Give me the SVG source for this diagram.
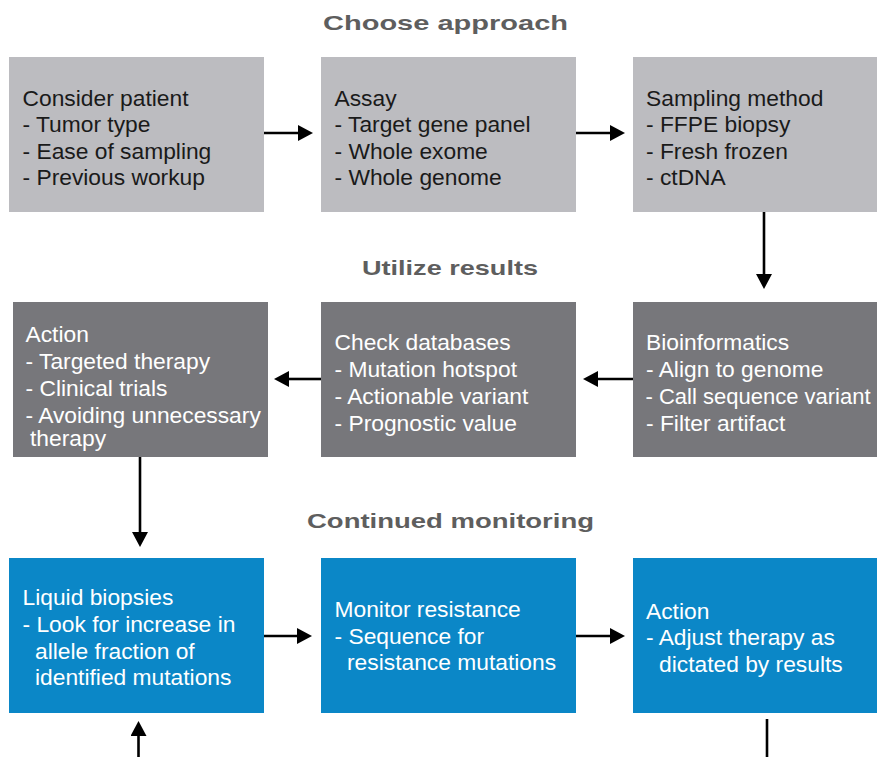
<svg xmlns="http://www.w3.org/2000/svg" width="877" height="757" viewBox="0 0 877 757">
<defs>
<style>
.t{font-family:"Liberation Sans",Arial,Helvetica,sans-serif;font-size:22.8px}
.dk{fill:#1a1a1a}
.wh{fill:#ffffff}
.hd{font-family:"Liberation Sans",Arial,Helvetica,sans-serif;font-size:21px;font-weight:bold;fill:#5e5e5e}
.lg{fill:#bcbcc0}
.dg{fill:#77777b}
.bl{fill:#0b87c7}
.c{fill:none;stroke:#000;stroke-width:2.6}
</style>
<marker id="ah" markerUnits="userSpaceOnUse" markerWidth="15" markerHeight="16" refX="0" refY="8" orient="auto" viewBox="0 0 15 16">
<path d="M0,0 L15,8 L0,16 Z" fill="#000"/>
</marker>
</defs>
<rect width="877" height="757" fill="#ffffff"/>

<g id="headings">
<text class="hd" x="323" y="30" textLength="245" lengthAdjust="spacingAndGlyphs">Choose approach</text>
<text class="hd" x="362" y="275" textLength="176" lengthAdjust="spacingAndGlyphs">Utilize results</text>
<text class="hd" x="307" y="527.5" textLength="287" lengthAdjust="spacingAndGlyphs">Continued monitoring</text>
</g>

<g id="consider-patient">
<rect class="lg" x="9" y="57" width="255" height="155"/>
<text class="t dk" x="22.5" y="105.5">Consider patient</text>
<text class="t dk" x="22.5" y="132">- Tumor type</text>
<text class="t dk" x="22.5" y="158.5">- Ease of sampling</text>
<text class="t dk" x="22.5" y="185">- Previous workup</text>
</g>

<g id="assay">
<rect class="lg" x="321" y="57" width="255" height="155"/>
<text class="t dk" x="334.5" y="105.5">Assay</text>
<text class="t dk" x="334.5" y="132">- Target gene panel</text>
<text class="t dk" x="334.5" y="158.5">- Whole exome</text>
<text class="t dk" x="334.5" y="185">- Whole genome</text>
</g>

<g id="sampling-method">
<rect class="lg" x="633" y="57" width="244" height="155"/>
<text class="t dk" x="646" y="105.5">Sampling method</text>
<text class="t dk" x="646" y="132">- FFPE biopsy</text>
<text class="t dk" x="646" y="158.5">- Fresh frozen</text>
<text class="t dk" x="646" y="185">- ctDNA</text>
</g>

<g id="action-1">
<rect class="dg" x="13" y="302" width="255" height="155"/>
<text class="t wh" x="25.5" y="342">Action</text>
<text class="t wh" x="25.5" y="368.5">- Targeted therapy</text>
<text class="t wh" x="25.5" y="395.5">- Clinical trials</text>
<text class="t wh" x="25.5" y="422.5">- Avoiding unnecessary</text>
<text class="t wh" x="30" y="446">therapy</text>
</g>

<g id="check-databases">
<rect class="dg" x="321" y="302" width="255" height="155"/>
<text class="t wh" x="334.5" y="350">Check databases</text>
<text class="t wh" x="334.5" y="376.5">- Mutation hotspot</text>
<text class="t wh" x="334.5" y="403.5">- Actionable variant</text>
<text class="t wh" x="334.5" y="430.5">- Prognostic value</text>
</g>

<g id="bioinformatics">
<rect class="dg" x="633" y="302" width="244" height="155"/>
<text class="t wh" x="646" y="350">Bioinformatics</text>
<text class="t wh" x="646" y="376.5">- Align to genome</text>
<text class="t wh" x="645.5" y="403.5" style="font-size:22px">- Call sequence variant</text>
<text class="t wh" x="646" y="430.5">- Filter artifact</text>
</g>

<g id="liquid-biopsies">
<rect class="bl" x="9" y="558" width="255" height="155"/>
<text class="t wh" x="22.5" y="605">Liquid biopsies</text>
<text class="t wh" x="22.5" y="631.5">- Look for increase in</text>
<text class="t wh" x="35" y="658.5">allele fraction of</text>
<text class="t wh" x="35" y="685">identified mutations</text>
</g>

<g id="monitor-resistance">
<rect class="bl" x="321" y="558" width="255" height="155"/>
<text class="t wh" x="334.5" y="617">Monitor resistance</text>
<text class="t wh" x="334.5" y="643.5">- Sequence for</text>
<text class="t wh" x="347" y="670">resistance mutations</text>
</g>

<g id="action-2">
<rect class="bl" x="633" y="558" width="244" height="155"/>
<text class="t wh" x="646" y="618.5">Action</text>
<text class="t wh" x="646" y="645">- Adjust therapy as</text>
<text class="t wh" x="659" y="671.5">dictated by results</text>
</g>

<g id="connectors">
<path class="c" d="M264,133 H298" marker-end="url(#ah)"/>
<path class="c" d="M576,133 H610" marker-end="url(#ah)"/>
<path class="c" d="M764,212 V274" marker-end="url(#ah)"/>
<path class="c" d="M633,379 H598" marker-end="url(#ah)"/>
<path class="c" d="M321,379 H289" marker-end="url(#ah)"/>
<path class="c" d="M140,457 V532" marker-end="url(#ah)"/>
<path class="c" d="M264,636 H297" marker-end="url(#ah)"/>
<path class="c" d="M576,636 H610" marker-end="url(#ah)"/>
<path class="c" d="M138.5,757 V736" marker-end="url(#ah)"/>
<path class="c" d="M767,719 V757"/>
</g>
</svg>
